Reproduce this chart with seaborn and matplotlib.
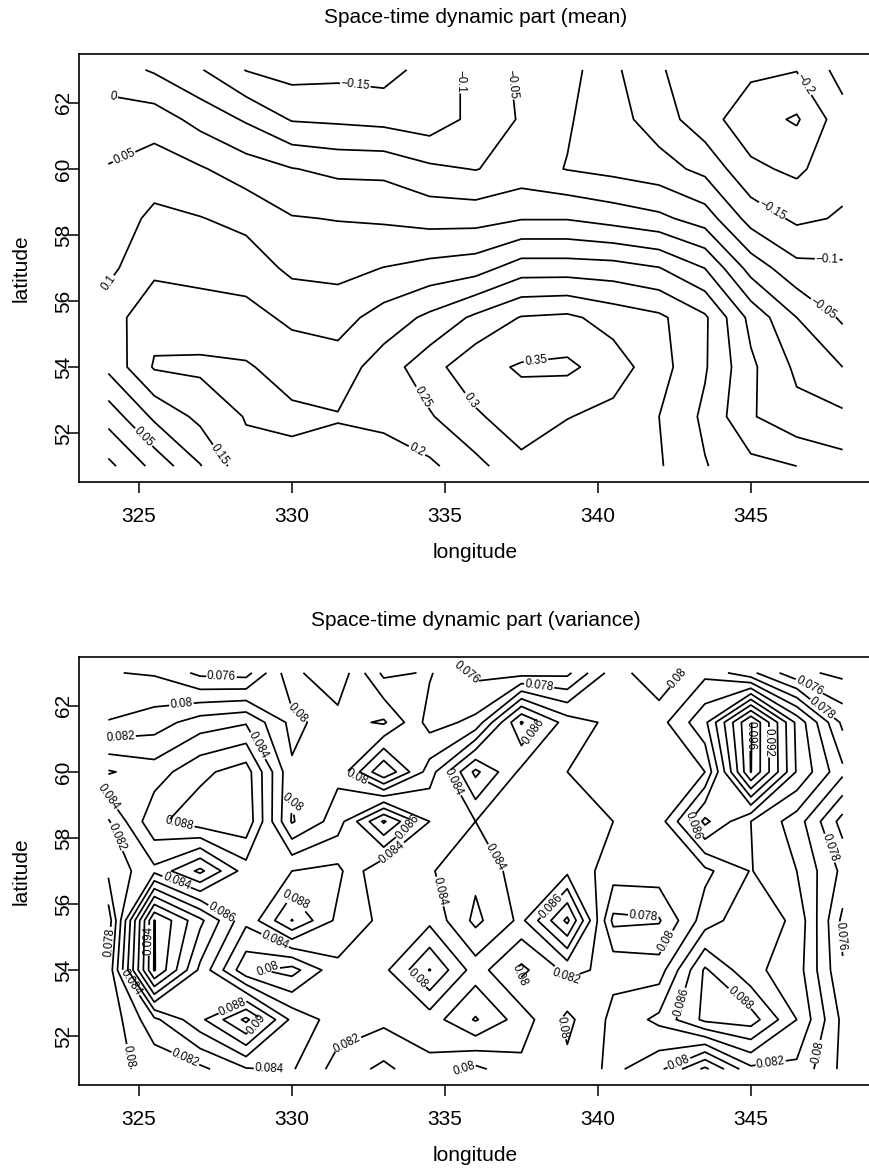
import matplotlib
matplotlib.use("Agg")
import numpy as np
import matplotlib.pyplot as plt
import seaborn as sns

# Grid nodes (degrees)
lon = [324.0, 325.5, 327.0, 328.5, 330.0, 331.5, 333.0, 334.5, 336.0,
       337.5, 339.0, 340.5, 342.0, 343.5, 345.0, 346.5, 348.0]
lat = [51.0, 52.5, 54.0, 55.5, 57.0, 58.5, 60.0, 61.5, 63.0]

# Space-time dynamic part, mean: one row per latitude (south to north)
mean_51 = [-0.063, 0.015, 0.097, 0.185, 0.185, 0.18, 0.18, 0.19, 0.235, 0.285, 0.265, 0.26, 0.255, 0.203, 0.165, 0.15, 0.12]
mean_52_5 = [0.02, 0.11, 0.163, 0.203, 0.21, 0.203, 0.21, 0.245, 0.292, 0.33, 0.302, 0.285, 0.25, 0.19, 0.105, 0.065, 0.06]
mean_54 = [0.112, 0.205, 0.21, 0.205, 0.18, 0.173, 0.225, 0.28, 0.335, 0.355, 0.36, 0.325, 0.27, 0.205, 0.11, 0.04, 0.0]
mean_55_5 = [0.128, 0.183, 0.17, 0.167, 0.14, 0.13, 0.171, 0.211, 0.26, 0.303, 0.31, 0.28, 0.26, 0.208, 0.085, 0.0, -0.058]
mean_57 = [0.088, 0.139, 0.136, 0.127, 0.089, 0.085, 0.101, 0.116, 0.128, 0.175, 0.175, 0.171, 0.152, 0.099, -0.02, -0.085, -0.091]
mean_58_5 = [0.072, 0.111, 0.102, 0.086, 0.053, 0.048, 0.043, 0.032, 0.031, 0.047, 0.047, 0.03, 0.012, -0.024, -0.12, -0.16, -0.145]
mean_60 = [0.053, 0.0755, 0.055, 0.025, 0.002, -0.012, -0.013, -0.04, -0.052, -0.03, -0.052, -0.065, -0.08, -0.114, -0.19, -0.21, -0.165]
mean_61_5 = [0.023, 0.026, -0.017, -0.056, -0.104, -0.109, -0.116, -0.13, -0.085, -0.045, -0.045, -0.08, -0.125, -0.18, -0.23, -0.256, -0.17]
mean_63 = [-0.025, -0.056, -0.096, -0.152, -0.17, -0.165, -0.17, -0.13, -0.085, -0.039, -0.03, -0.09, -0.145, -0.18, -0.19, -0.198, -0.13]

# Space-time dynamic part, variance: one row per latitude (south to north)
var_51 = [0.0795, 0.0805, 0.0815, 0.0838, 0.0842, 0.0812, 0.0795, 0.0815, 0.0795, 0.0815, 0.0805, 0.0825, 0.0805, 0.0755, 0.0815, 0.0815, 0.0775]
var_52_5 = [0.0785, 0.0835, 0.0875, 0.0925, 0.0855, 0.083, 0.0825, 0.083, 0.0862, 0.083, 0.0795, 0.0825, 0.0845, 0.0885, 0.089, 0.084, 0.0775]
var_54 = [0.0785, 0.0962, 0.0875, 0.0805, 0.0792, 0.0835, 0.0825, 0.0779, 0.083, 0.0795, 0.0825, 0.0815, 0.081, 0.0883, 0.0845, 0.083, 0.0762]
var_55_5 = [0.0768, 0.0961, 0.0905, 0.0845, 0.0901, 0.0855, 0.0835, 0.0825, 0.0865, 0.0835, 0.0905, 0.0775, 0.0778, 0.083, 0.0855, 0.0835, 0.0755]
var_57 = [0.0805, 0.0835, 0.0795, 0.085, 0.086, 0.0865, 0.082, 0.0838, 0.0855, 0.083, 0.0835, 0.081, 0.0811, 0.0815, 0.0841, 0.082, 0.0775]
var_58_5 = [0.0818, 0.0875, 0.0892, 0.0895, 0.0798, 0.083, 0.0903, 0.084, 0.084, 0.0825, 0.0825, 0.082, 0.081, 0.0885, 0.084, 0.081, 0.0752]
var_60 = [0.0862, 0.085, 0.0875, 0.089, 0.0803, 0.0815, 0.0741, 0.081, 0.0885, 0.0835, 0.082, 0.0808, 0.0805, 0.082, 0.0961, 0.0858, 0.0805]
var_61_5 = [0.0801, 0.081, 0.083, 0.0838, 0.0794, 0.0812, 0.0823, 0.0772, 0.0785, 0.0882, 0.083, 0.0815, 0.0812, 0.0855, 0.0962, 0.0855, 0.0775]
var_63 = [0.0781, 0.0778, 0.0755, 0.0752, 0.0815, 0.0835, 0.0775, 0.0782, 0.0755, 0.0752, 0.0755, 0.081, 0.0785, 0.0815, 0.0785, 0.0745, 0.0735]

mean_levels = [-0.25, -0.2, -0.15, -0.1, -0.05, 0.0, 0.05, 0.1, 0.15, 0.2, 0.25, 0.3, 0.35]
var_levels = [0.074, 0.076, 0.078, 0.08, 0.082, 0.084, 0.086, 0.088, 0.09, 0.092, 0.094, 0.096]

x_ticks = [325, 330, 335, 340, 345]
y_ticks = [52, 54, 56, 58, 60, 62]

titles = ["Space-time dynamic part (mean)", "Space-time dynamic part (variance)"]

# where the contour labels sit (lon, lat)
mean_label_pos = [(324.24, 62.66), (324.4, 60.6), (332.1, 62.78), (335.6, 62.66),
                  (324.2, 56.2), (325.1, 51.83), (327.6, 51.32), (334.1, 53.0),
                  (335.7, 52.9), (334.16, 51.6), (337.14, 62.56), (346.84, 62.6),
                  (345.7, 58.75), (347.5, 57.4), (347.3, 55.7), (338.0, 54.0)]
var_label_pos = [(327.7, 62.9), (326.4, 61.95), (330.5, 62.1), (324.4, 61.1), (328.9, 60.8),
                 (324.4, 59.5), (330.2, 59.1), (326.3, 58.3), (324.2, 58.0),
                 (335.2, 62.6), (338.1, 62.75), (338.0, 61.15), (332.1, 59.8), (335.2, 59.65),
                 (333.8, 58.3), (338.0, 58.1), (333.6, 57.2),
                 (342.8, 62.7), (347.0, 62.75), (347.4, 62.0), (344.9, 61.1), (345.7, 60.9),
                 (343.2, 58.45), (347.6, 57.7),
                 (324.0, 54.85), (325.4, 54.9), (326.2, 56.6), (327.8, 55.9), (330.6, 56.5),
                 (329.5, 55.0), (329.2, 54.1), (324.7, 53.6), (327.9, 53.2), (328.9, 52.3),
                 (326.6, 51.5), (329.3, 51.1), (324.7, 51.4),
                 (334.7, 56.35), (338.5, 55.9), (334.1, 53.75), (337.5, 53.9), (338.6, 53.5),
                 (339.0, 52.3), (332.0, 51.35), (335.2, 51.1),
                 (341.5, 55.8), (342.2, 54.9), (347.8, 55.0), (342.8, 53.0), (344.6, 53.1),
                 (345.6, 51.5), (342.6, 51.3), (347.3, 51.5)]

sns.set_theme(style="ticks")
plt.rcParams["font.family"] = ["Liberation Sans", "DejaVu Sans"]
plt.rcParams["axes.unicode_minus"] = True

W, H = 869, 1171
fig = plt.figure(figsize=(W / 100, H / 100), dpi=100)
fig.patch.set_facecolor("white")

ax_left = 79 / W
ax_width = 793 / W
ax_height = 428 / H
ax1 = fig.add_axes([ax_left, 1 - 482 / H, ax_width, ax_height])
ax2 = fig.add_axes([ax_left, 1 - 1085 / H, ax_width, ax_height])


def level_text(v):
    s = f"{v:g}"
    return s.replace("-", "\u2212")


def draw_panel(ax, rows, levels, label_pos, title):
    z = np.array(rows)
    cs = ax.contour(lon, lat, z, levels=levels, colors="black",
                    linewidths=1.25, linestyles="solid",
                    negative_linestyles="solid")
    ax.clabel(cs, manual=label_pos, inline=True, inline_spacing=2,
              fontsize=8.3, fmt=level_text)
    ax.set_xlim(323.04, 348.96)
    ax.set_ylim(50.52, 63.48)
    ax.set_facecolor("white")
    for sp in ax.spines.values():
        sp.set_color("black")
        sp.set_linewidth(1.2)
    ax.set_xticks(x_ticks)
    ax.set_yticks(y_ticks)
    ax.tick_params(axis="both", direction="out", length=8, width=1.1,
                   colors="black", labelsize=15)
    ax.tick_params(axis="x", pad=10)
    ax.tick_params(axis="y", pad=-4, labelrotation=90)
    plt.setp(ax.get_yticklabels(), va="center")
    ax.set_xlabel("longitude", fontsize=15, labelpad=12.5, color="black")
    ax.set_ylabel("latitude", fontsize=15, labelpad=17.5, color="black")
    ax.set_title(title, fontsize=15, pad=22, color="black")


draw_panel(ax1, [mean_51, mean_52_5, mean_54, mean_55_5, mean_57, mean_58_5,
                 mean_60, mean_61_5, mean_63],
           mean_levels, mean_label_pos, titles[0])
draw_panel(ax2, [var_51, var_52_5, var_54, var_55_5, var_57, var_58_5,
                 var_60, var_61_5, var_63],
           var_levels, var_label_pos, titles[1])

fig.savefig("out.png", dpi=100, facecolor="white")
